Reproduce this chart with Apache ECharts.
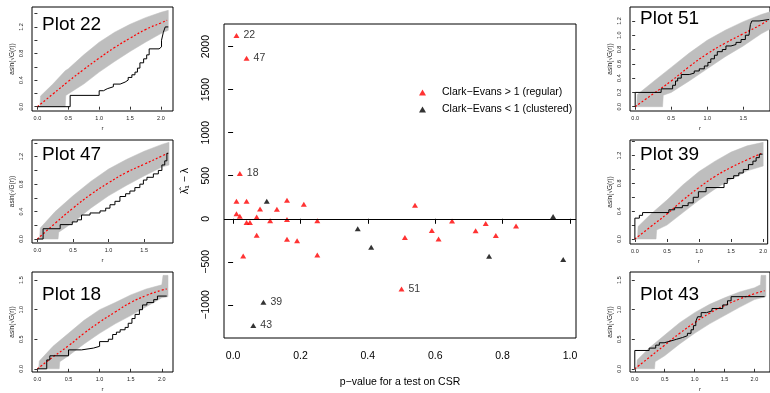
<!DOCTYPE html>
<html><head><meta charset="utf-8">
<script src="https://cdn.jsdelivr.net/npm/echarts@6/dist/echarts.min.js"></script>
<style>html,body{margin:0;padding:0;background:#fff}#c{width:770px;height:393px}</style>
</head><body><div id="c"></div>
<script>
// ---- main scatter data ----
const regP = [0.01,0.04,0.02,0.01,0.04,0.16,0.21,0.01,0.02,0.08,0.13,0.07,0.04,0.05,0.11,0.16,0.25,0.07,0.16,0.19,0.03,0.25,0.50,0.51,0.54,0.59,0.61,0.65,0.72,0.75,0.78,0.84];
const regD = [2130,1865,525,205,205,215,170,58,30,115,110,20,-42,-42,-23,-8,-23,-192,-239,-254,-431,-420,-815,-216,158,-135,-235,-27,-139,-54,-193,-85];
const regLab = ['22','47','18','','','','','','','','','','','','','','','','','','','','51','','','','','','','','',''];
const cluP = [0.10,0.37,0.41,0.09,0.06,0.95,0.76,0.98];
const cluD = [204,-115,-331,-970,-1239,27,-435,-473];
const cluLab = ['','','','39','43','','',''];
const mainXTicks = [0,0.2,0.4,0.6,0.8,1.0];
const mainYTicks = [-1000,-500,0,500,1000,1500,2000];

// ---- small panel data: [r, asin(sqrt(G(r)))] ----
const theo22 = [[0,0],[0.25,0.19],[0.5,0.38],[0.75,0.56],[1.0,0.73],[1.25,0.89],[1.5,1.03],[1.75,1.16],[2.0,1.26],[2.1,1.3]];
const hi22 = [[0,0],[0.04,0],[0.05,0.16],[0.25,0.34],[0.45,0.54],[0.5,0.57],[0.75,0.78],[1.0,0.97],[1.25,1.12],[1.5,1.24],[1.75,1.34],[2.0,1.42],[2.12,1.45]];
const lo22 = [[0,0],[0.45,0],[0.46,0.17],[0.75,0.34],[1.0,0.52],[1.25,0.68],[1.5,0.83],[1.75,0.97],[2.0,1.1],[2.12,1.15]];
const obs22 = [[0,0],[0.53,0.17],[1.0,0.24],[1.07,0.27],[1.13,0.3],[1.23,0.34],[1.34,0.37],[1.42,0.4],[1.47,0.44],[1.53,0.48],[1.58,0.52],[1.62,0.58],[1.66,0.66],[1.72,0.72],[1.77,0.78],[1.81,0.87],[1.97,0.9],[2.01,1.0],[2.04,1.12],[2.07,1.2],[2.12,1.2]];

const theo47 = [[0,0],[0.25,0.23],[0.5,0.45],[0.75,0.65],[1.0,0.82],[1.25,0.97],[1.5,1.09],[1.75,1.21],[1.83,1.25]];
const hi47 = [[0,0],[0.03,0],[0.04,0.16],[0.25,0.4],[0.5,0.63],[0.75,0.84],[1.0,1.02],[1.25,1.16],[1.5,1.28],[1.75,1.38],[1.85,1.41]];
const lo47 = [[0,0],[0.29,0],[0.3,0.1],[0.5,0.24],[0.75,0.45],[1.0,0.63],[1.25,0.78],[1.5,0.92],[1.75,1.05],[1.85,1.08]];
const obs47 = [[0,0],[0.08,0.15],[0.32,0.21],[0.49,0.25],[0.56,0.28],[0.62,0.35],[0.74,0.38],[0.88,0.41],[0.96,0.45],[1.02,0.5],[1.09,0.55],[1.16,0.62],[1.24,0.66],[1.3,0.7],[1.37,0.75],[1.44,0.8],[1.49,0.86],[1.54,0.9],[1.63,0.95],[1.7,1.0],[1.75,1.08],[1.79,1.14],[1.82,1.25],[1.84,1.25]];

const theo18 = [[0,0],[0.25,0.2],[0.5,0.39],[0.75,0.6],[1.0,0.79],[1.25,0.96],[1.5,1.12],[1.75,1.24],[2.0,1.33],[2.08,1.35]];
const hi18 = [[0,0],[0.02,0],[0.03,0.13],[0.25,0.38],[0.5,0.6],[0.75,0.82],[1.0,1.0],[1.25,1.12],[1.5,1.25],[1.75,1.35],[2.0,1.42],[2.02,1.58],[2.1,1.58]];
const lo18 = [[0,0],[0.35,0],[0.36,0.12],[0.5,0.22],[0.75,0.42],[1.0,0.6],[1.25,0.76],[1.5,0.9],[1.75,1.05],[2.0,1.2],[2.1,1.22]];
const obs18 = [[0,0],[0.15,0.15],[0.2,0.22],[0.5,0.32],[0.71,0.35],[0.9,0.38],[1.0,0.46],[1.14,0.5],[1.21,0.58],[1.27,0.62],[1.33,0.66],[1.41,0.7],[1.46,0.77],[1.52,0.85],[1.57,0.92],[1.64,1.0],[1.69,1.08],[1.76,1.12],[1.87,1.17],[1.93,1.23],[2.08,1.23]];

const theo51 = [[0,0],[0.25,0.18],[0.5,0.36],[0.75,0.56],[1.0,0.74],[1.25,0.89],[1.5,1.02],[1.75,1.15],[1.83,1.2]];
const hi51 = [[0,0],[0.02,0],[0.03,0.17],[0.25,0.35],[0.5,0.55],[0.75,0.75],[1.0,0.93],[1.25,1.07],[1.5,1.19],[1.75,1.29],[1.88,1.33]];
const lo51 = [[0,0],[0.38,0],[0.39,0.16],[0.5,0.2],[0.75,0.36],[1.0,0.53],[1.25,0.7],[1.5,0.85],[1.75,1.02],[1.88,1.09]];
const obs51 = [[0,0],[0,0.2],[0.36,0.25],[0.52,0.3],[0.56,0.36],[0.59,0.4],[0.64,0.45],[0.75,0.47],[0.82,0.5],[0.89,0.53],[0.96,0.57],[1.01,0.62],[1.05,0.67],[1.1,0.72],[1.14,0.77],[1.21,0.8],[1.26,0.85],[1.33,0.87],[1.4,0.9],[1.47,0.94],[1.53,1.0],[1.58,1.02],[1.6,1.15],[1.62,1.2],[1.72,1.22],[1.86,1.22]];

const theo39 = [[0,0],[0.25,0.18],[0.5,0.36],[0.75,0.56],[1.0,0.74],[1.25,0.9],[1.5,1.03],[1.75,1.14],[1.97,1.23]];
const hi39 = [[0,0],[0.04,0],[0.05,0.18],[0.25,0.36],[0.5,0.56],[0.75,0.78],[1.0,0.97],[1.25,1.12],[1.5,1.25],[1.75,1.34],[2.0,1.39]];
const lo39 = [[0,0],[0.33,0],[0.34,0.13],[0.5,0.2],[0.75,0.38],[1.0,0.56],[1.25,0.72],[1.5,0.86],[1.75,0.98],[2.0,1.05]];
const obs39 = [[0,0],[0,0.3],[0.07,0.34],[0.12,0.38],[0.53,0.42],[0.62,0.45],[0.74,0.48],[0.83,0.52],[0.91,0.6],[0.99,0.68],[1.11,0.74],[1.39,0.8],[1.44,0.87],[1.54,0.91],[1.62,0.95],[1.69,1.0],[1.77,1.07],[1.84,1.12],[1.89,1.17],[1.94,1.22],[1.99,1.22]];

const theo43 = [[0,0],[0.25,0.2],[0.5,0.4],[0.75,0.6],[1.0,0.78],[1.25,0.94],[1.5,1.07],[1.75,1.18],[2.0,1.27],[2.17,1.32]];
const hi43 = [[0,0],[0.03,0],[0.04,0.15],[0.25,0.36],[0.5,0.57],[0.75,0.78],[1.0,0.95],[1.25,1.09],[1.5,1.2],[1.75,1.3],[2.0,1.37],[2.1,1.42],[2.11,1.58],[2.19,1.58]];
const lo43 = [[0,0],[0.33,0],[0.34,0.12],[0.5,0.22],[0.75,0.42],[1.0,0.6],[1.25,0.76],[1.5,0.9],[1.75,1.04],[2.0,1.17],[2.19,1.22]];
const obs43 = [[0,0],[0,0.31],[0.24,0.35],[0.35,0.4],[0.41,0.44],[0.49,0.47],[0.6,0.5],[0.7,0.53],[0.8,0.56],[0.88,0.6],[0.94,0.66],[0.98,0.73],[1.02,0.8],[1.05,0.88],[1.11,0.95],[1.2,0.98],[1.29,1.02],[1.47,1.08],[1.55,1.15],[1.61,1.22],[2.17,1.22]];

// tick label sets
const xTicksA = [0,0.5,1.0,1.5,2.0];
const xTicksB = [0,0.5,1.0,1.5];
const yTicksFine = [0,0.2,0.4,0.6,0.8,1.0,1.2,1.4];
const yLabFine = [0,0.4,0.8,1.2];
const yTicksHalf = [0,0.5,1.0,1.5];
const yTicks51 = [0,0.2,0.4,0.6,0.8,1.0,1.2];

const FONT = 'Liberation Sans, Arial, Helvetica, sans-serif';

const panels = [
  {title:'Plot 22', theo:theo22, hi:hi22, lo:lo22, obs:obs22, box:[32,7,141,104], xr:[-0.088,2.196], yr:[-0.065,1.5], xt:xTicksA, yt:yTicksFine, yl:yLabFine, tp:[42,25]},
  {title:'Plot 47', theo:theo47, hi:hi47, lo:lo47, obs:obs47, box:[32,140,141,103], xr:[-0.076,1.906], yr:[-0.058,1.444], xt:xTicksB, yt:yTicksFine, yl:yLabFine, tp:[42,155]},
  {title:'Plot 18', theo:theo18, hi:hi18, lo:lo18, obs:obs18, box:[32,272,141,102], xr:[-0.087,2.18], yr:[-0.054,1.637], xt:xTicksA, yt:yTicksHalf, yl:yTicksHalf, tp:[42,295]},
  {title:'Plot 51', theo:theo51, hi:hi51, lo:lo51, obs:obs51, box:[630,7,141,104], xr:[-0.072,1.872], yr:[-0.06,1.395], xt:xTicksB, yt:yTicks51, yl:yTicks51, tp:[640,19]},
  {title:'Plot 39', theo:theo39, hi:hi39, lo:lo39, obs:obs39, box:[630,140,141,104], xr:[-0.076,2.07], yr:[-0.072,1.424], xt:xTicksA, yt:yTicksFine, yl:yLabFine, tp:[640,155]},
  {title:'Plot 43', theo:theo43, hi:hi43, lo:lo43, obs:obs43, box:[630,272,141,102], xr:[-0.08,2.26], yr:[-0.054,1.637], xt:xTicksA, yt:yTicksHalf, yl:yTicksHalf, tp:[640,295]}
];

const grids = [{left:224, top:24, width:352, height:316, show:true, borderColor:'#000', borderWidth:1}];
const xAxes = [{
  gridIndex:0, type:'value', min:-0.027, max:1.018,
  splitLine:{show:false}, axisLine:{show:false},
  axisTick:{show:true, length:5, customValues:mainXTicks, lineStyle:{color:'#000'}},
  axisLabel:{customValues:mainXTicks, formatter:v=>v.toFixed(1), fontSize:10.5, fontFamily:FONT, color:'#000', margin:13},
  name:'p\u2212value for a test on CSR', nameLocation:'middle', nameGap:39,
  nameTextStyle:{fontSize:10.5, fontFamily:FONT, color:'#000'}
}];
const yAxes = [{
  gridIndex:0, type:'value', min:-1385, max:2263,
  splitLine:{show:false}, axisLine:{show:false},
  axisTick:{show:true, length:5, customValues:mainYTicks, lineStyle:{color:'#000'}},
  axisLabel:{customValues:mainYTicks, formatter:v=>String(v).replace('-', '\u2212'), rotate:90, fontSize:10.5, fontFamily:FONT, color:'#000', margin:12},
  name:'\u03BB\u0302\u2081 \u2212 \u03BB', nameLocation:'middle', nameGap:33, nameRotate:90,
  nameTextStyle:{fontSize:10.5, fontFamily:FONT, color:'#000'}
}];

const series = [
  {
    name:'Clark\u2212Evans > 1 (regular)', type:'scatter', xAxisIndex:0, yAxisIndex:0,
    symbol:'triangle', symbolSize:[6,5], itemStyle:{color:'#FF0000'},
    data: regP.map((p,i)=>({value:[p,regD[i]], label: regLab[i] ? {show:true, formatter:regLab[i], position:'right', distance:4, color:'#000', fontSize:10.5, fontFamily:FONT} : {show:false}})),
    markLine:{silent:true, symbol:'none', label:{show:false}, lineStyle:{color:'#000', type:'solid', width:1}, data:[{yAxis:0}]},
    z:3
  },
  {
    name:'Clark\u2212Evans < 1 (clustered)', type:'scatter', xAxisIndex:0, yAxisIndex:0,
    symbol:'triangle', symbolSize:[6,5], itemStyle:{color:'#000'},
    data: cluP.map((p,i)=>({value:[p,cluD[i]], label: cluLab[i] ? {show:true, formatter:cluLab[i], position:'right', distance:4, color:'#000', fontSize:10.5, fontFamily:FONT} : {show:false}})),
    z:3
  }
];

const graphics = [];

panels.forEach((pn, k) => {
  const gi = k + 1;
  grids.push({left:pn.box[0], top:pn.box[1], width:pn.box[2], height:pn.box[3], show:true, borderColor:'#000', borderWidth:1});
  xAxes.push({
    gridIndex:gi, type:'value', min:pn.xr[0], max:pn.xr[1],
    splitLine:{show:false}, axisLine:{show:false},
    axisTick:{show:true, length:3, customValues:pn.xt, lineStyle:{color:'#000', width:0.8}},
    axisLabel:{customValues:pn.xt, formatter:v=>v.toFixed(1), fontSize:5.5, fontFamily:FONT, color:'#222', margin:4},
    name:'r', nameLocation:'middle', nameGap:14, nameTextStyle:{fontSize:6, fontFamily:FONT, color:'#222'}
  });
  yAxes.push({
    gridIndex:gi, type:'value', min:pn.yr[0], max:pn.yr[1],
    splitLine:{show:false}, axisLine:{show:false},
    axisTick:{show:true, length:3, customValues:pn.yt, lineStyle:{color:'#000', width:0.8}},
    axisLabel:{customValues:pn.yl, formatter:v=>v.toFixed(1), rotate:90, fontSize:5.5, fontFamily:FONT, color:'#222', margin:8},
    name:'asin(\u221AG(r))', nameLocation:'middle', nameGap:16, nameRotate:90, nameTextStyle:{fontSize:6.5, fontFamily:FONT, color:'#222'}
  });
  const hi = pn.hi, lo = pn.lo;
  series.push({
    type:'custom', xAxisIndex:gi, yAxisIndex:gi, data:[[0,0]], silent:true, z:1,
    renderItem:(params, api) => {
      const pts = hi.map(p=>api.coord(p)).concat(lo.slice().reverse().map(p=>api.coord(p)));
      return {type:'polygon', shape:{points:pts}, style:{fill:'#BEBEBE', stroke:'#BEBEBE', lineWidth:0.5}};
    }
  });
  series.push({
    type:'line', xAxisIndex:gi, yAxisIndex:gi, data:pn.theo, symbol:'none', smooth:true, silent:true, z:2,
    lineStyle:{color:'#FF0000', type:[2,2], width:1.2}
  });
  series.push({
    type:'line', xAxisIndex:gi, yAxisIndex:gi, data:pn.obs, step:'end', symbol:'none', silent:true, z:3,
    lineStyle:{color:'#000', width:1}
  });
  graphics.push({type:'text', x:pn.tp[0], y:pn.tp[1], z:10, style:{text:pn.title, font:'19px ' + FONT, fill:'#000', textVerticalAlign:'middle'}});
});

const chart = echarts.init(document.getElementById('c'), null, {renderer:'canvas'});
chart.setOption({
  animation:false,
  backgroundColor:'#fff',
  textStyle:{fontFamily:FONT},
  grid:grids, xAxis:xAxes, yAxis:yAxes, series:series,
  legend:{
    data:['Clark\u2212Evans > 1 (regular)','Clark\u2212Evans < 1 (clustered)'],
    orient:'vertical', left:414, top:82, itemWidth:7, itemHeight:6, itemGap:6,
    icon:'triangle', textStyle:{fontSize:10.5, fontFamily:FONT, color:'#000', padding:[0,0,0,11]},
    selectedMode:false
  },
  graphic:graphics
});
</script></body></html>
